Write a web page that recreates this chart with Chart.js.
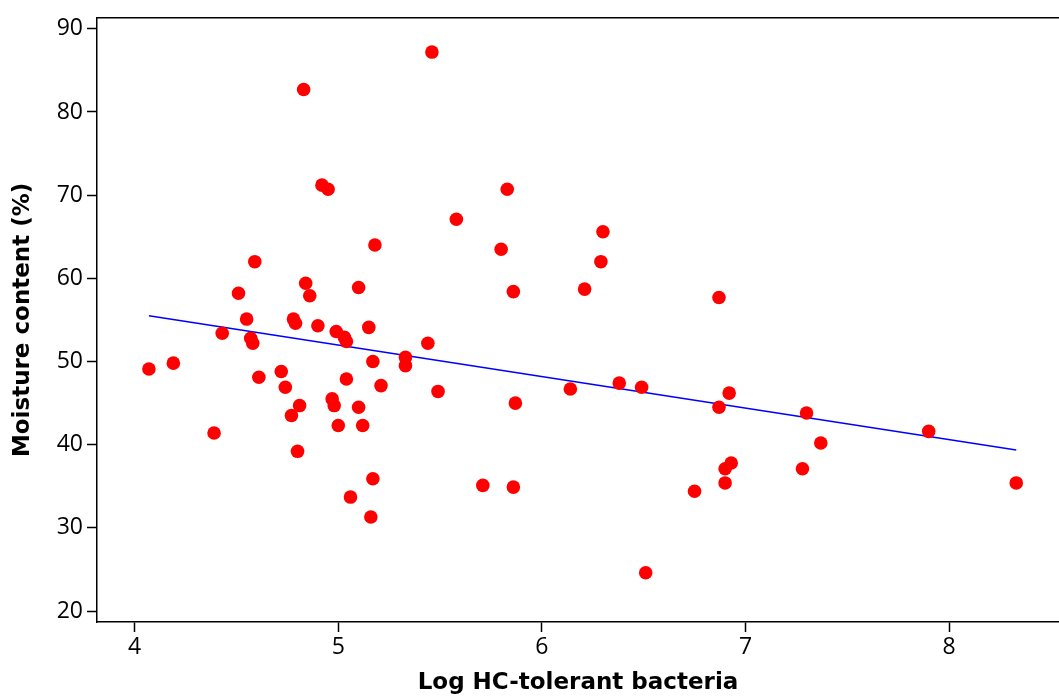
<!DOCTYPE html>
<html>
<head>
<meta charset="utf-8">
<script src="https://cdn.jsdelivr.net/npm/chart.js@4"></script>
<style>
  html, body { margin: 0; padding: 0; background: #fff; }
  #wrap { width: 1059px; height: 697px; }
</style>
</head>
<body>
<div id="wrap"><canvas id="myChart" width="1059" height="697"></canvas></div>
<script>
/* data */
var logBacteria = [4.07, 4.19, 4.39, 4.43, 4.51, 4.55, 4.57, 4.58, 4.59, 4.61,
  4.72, 4.74, 4.77, 4.78, 4.79, 4.80, 4.81, 4.83, 4.84, 4.86,
  4.90, 4.92, 4.95, 4.97, 4.98, 4.99, 5.00, 5.03, 5.04, 5.04,
  5.06, 5.10, 5.10, 5.12, 5.15, 5.16, 5.17, 5.17, 5.18, 5.21,
  5.33, 5.33, 5.44, 5.46, 5.49, 5.58, 5.71, 5.80, 5.83, 5.86,
  5.86, 5.87, 6.14, 6.21, 6.29, 6.30, 6.38, 6.49, 6.51, 6.75,
  6.87, 6.87, 6.90, 6.90, 6.92, 6.93, 7.28, 7.30, 7.37, 7.90, 8.33];
var moisture = [49.1, 49.8, 41.4, 53.4, 58.2, 55.1, 52.8, 52.2, 62.0, 48.1,
  48.8, 46.9, 43.5, 55.1, 54.6, 39.2, 44.7, 82.7, 59.4, 57.9,
  54.3, 71.2, 70.7, 45.5, 44.7, 53.6, 42.3, 52.9, 52.4, 47.9,
  33.7, 58.9, 44.5, 42.3, 54.1, 31.3, 50.0, 35.9, 64.0, 47.1,
  50.5, 49.5, 52.2, 87.2, 46.4, 67.1, 35.1, 63.5, 70.7, 58.4,
  34.9, 45.0, 46.7, 58.7, 62.0, 65.6, 47.4, 46.9, 24.6, 34.4,
  57.7, 44.5, 37.1, 35.4, 46.2, 37.8, 37.1, 43.8, 40.2, 41.6, 35.4];
// fitted line, ends
var fitX = [4.07, 8.33];
var fitY = [55.5, 39.35];

var xTicks = [4, 5, 6, 7, 8];
var yTicks = [20, 30, 40, 50, 60, 70, 80, 90];

var points = [];
for (var i = 0; i < logBacteria.length; i++) {
  points.push({ x: logBacteria[i], y: moisture[i] });
}
var line = [];
for (var j = 0; j < fitX.length; j++) {
  line.push({ x: fitX[j], y: fitY[j] });
}

var tickFont = { family: "'Open Sans', sans-serif", size: 23 };
var titleFont = { family: "'DejaVu Sans', sans-serif", size: 23, weight: "bold" };

// top edge of the frame
const frameTop = {
  id: "frameTop",
  afterDraw: function (chart) {
    var a = chart.chartArea;
    var ctx = chart.ctx;
    ctx.save();
    ctx.strokeStyle = "#000";
    ctx.lineWidth = 1.5;
    ctx.beginPath();
    ctx.moveTo(a.left, a.top);
    ctx.lineTo(a.right, a.top);
    ctx.stroke();
    ctx.restore();
  }
};

new Chart("myChart", {
  type: "scatter",
  data: {
    datasets: [{
      data: points,
      backgroundColor: "#ff0000",
      borderWidth: 0,
      pointRadius: 6.8,
      pointHoverRadius: 6.8,
      order: 1
    }, {
      type: "line",
      data: line,
      borderColor: "#0000ff",
      borderWidth: 1.6,
      pointRadius: 0,
      fill: false,
      order: 2
    }]
  },
  plugins: [frameTop],
  options: {
    responsive: false,
    animation: false,
    layout: { autoPadding: false, padding: { top: 17, right: 0, left: 0, bottom: 0 } },
    plugins: { legend: { display: false }, tooltip: { enabled: false } },
    scales: {
      x: {
        type: "linear",
        min: 3.815,
        max: 8.54,
        afterBuildTicks: function (s) { s.ticks = xTicks.map(function (v) { return { value: v }; }); },
        afterFit: function (s) { s.height = 75; },
        ticks: { color: "#000", font: tickFont, padding: 2, includeBounds: false },
        grid: { drawOnChartArea: false, drawTicks: true, tickLength: 10, tickColor: "#000", tickWidth: 1.5 },
        border: { color: "#000", width: 1.5 },
        title: { display: true, text: "Log HC-tolerant bacteria", color: "#000", font: titleFont, padding: { top: 1, bottom: 0 } }
      },
      y: {
        type: "linear",
        min: 18.68,
        max: 91.32,
        afterBuildTicks: function (s) { s.ticks = yTicks.map(function (v) { return { value: v }; }); },
        afterFit: function (s) { s.width = 97; },
        ticks: { color: "#000", font: tickFont, padding: 4, includeBounds: false },
        grid: { drawOnChartArea: false, drawTicks: true, tickLength: 10, tickColor: "#000", tickWidth: 1.5 },
        border: { color: "#000", width: 1.5 },
        title: { display: true, text: "Moisture content (%)", color: "#000", font: titleFont, padding: { top: 9, bottom: 0 } }
      }
    }
  }
});
</script>
</body>
</html>
